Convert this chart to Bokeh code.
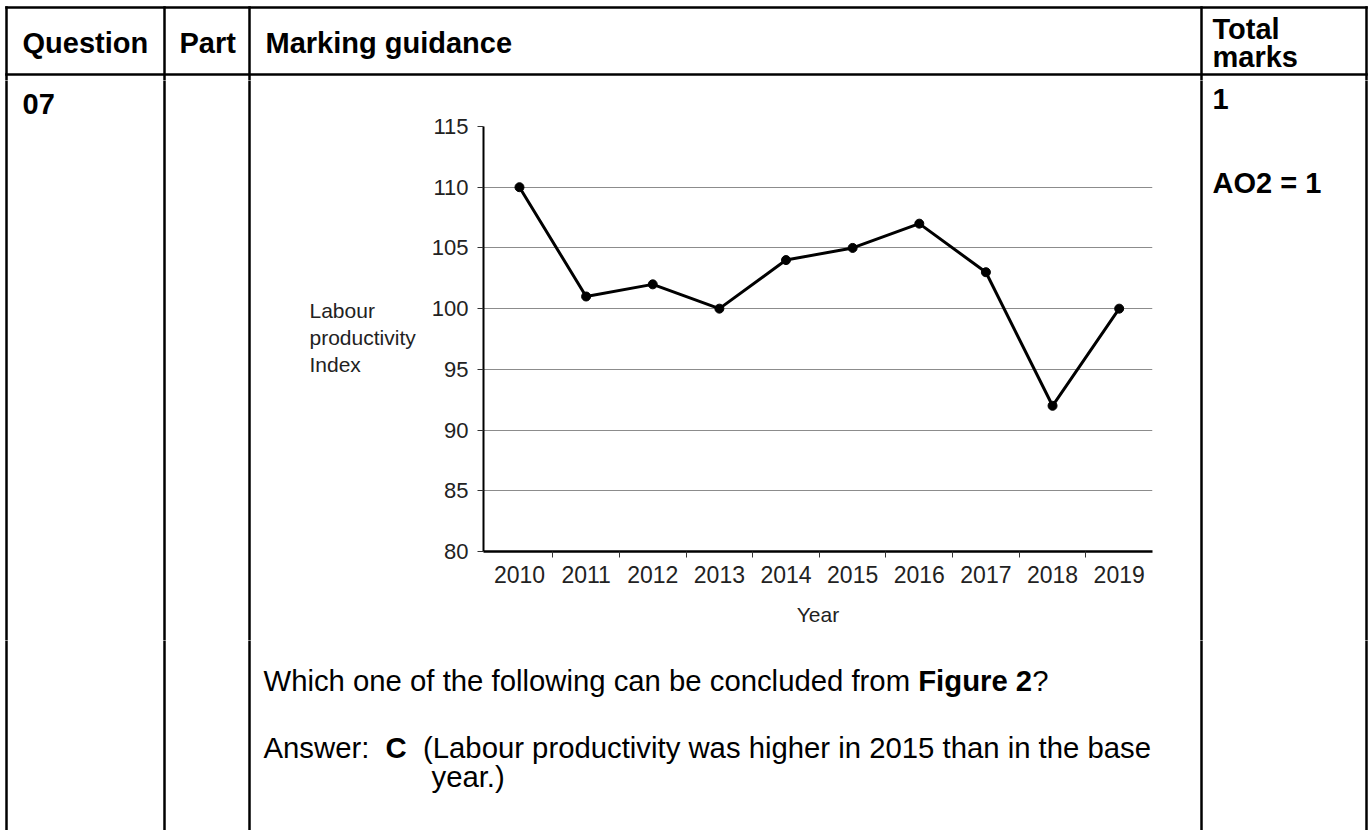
from bokeh.plotting import figure
from bokeh.models import Range1d, FixedTicker
from bokeh.layouts import column, row
from bokeh.core.properties import value
from bokeh.embed import file_html
from bokeh.resources import INLINE

# ---------------- data ----------------
years = [2010, 2011, 2012, 2013, 2014, 2015, 2016, 2017, 2018, 2019]
index_values = [110, 101, 102, 100, 104, 105, 107, 103, 92, 100]
y_ticks = [80, 85, 90, 95, 100, 105, 110, 115]
y_label_lines = ["Labour", "productivity", "Index"]
x_label = "Year"
header_texts = ["Question", "Part", "Marking guidance"]
marks_header = ["Total", "marks"]
question_no = "07"
total_marks = "1"
ao_text = "AO2 = 1"
question_text = ["Which one of the following can be concluded from ", "Figure 2", "?"]
answer_text = ["Answer:", "C", "(Labour productivity was higher in 2015 than in the base", "year.)"]

FONT = "Liberation Sans"
PW, PH = 1371, 830

# page regions (pixels)
TOP_H = 80           # header strip height
CH_X0, CH_X1 = 420, 1170
CH_Y1 = 640
COL_LINES = [6, 164, 249, 1201, 1366]
LW = 2.5
BODY = "29.3px"


def no_align(f):
    try:
        f.frame_align = False
    except Exception:
        pass


def page_fig(x0, x1, y0, y1):
    f = figure(width=x1 - x0, height=y1 - y0,
               x_range=Range1d(x0, x1), y_range=Range1d(y1, y0),
               output_backend="svg", toolbar_location=None,
               x_axis_type=None, y_axis_type=None, min_border=0)
    f.outline_line_color = None
    f.background_fill_color = "white"
    f.border_fill_color = "white"
    f.grid.visible = False
    no_align(f)
    xs = [x for x in COL_LINES if x0 <= x <= x1]
    if xs:
        ystart = 5.75 if y0 <= 5.75 else y0 - 4
        f.segment(x0=xs, y0=[ystart] * len(xs), x1=xs, y1=[y1 + 4] * len(xs),
                  line_color="black", line_width=LW)
    return f


def txt(f, x, y, s, size=BODY, bold=False, color="black"):
    f.text(x=[x], y=[y], text=[s], text_font=value(FONT),
           text_font_size=value(size),
           text_font_style=value("bold" if bold else "normal"),
           text_color=color, text_align="left", text_baseline=value("middle"))


# ---------------- header strip ----------------
top = page_fig(0, PW, 0, TOP_H)
top.segment(x0=[4.75, 4.75], y0=[7, 74], x1=[1367.25, 1367.25], y1=[7, 74],
            line_color="black", line_width=LW)
txt(top, 22, 42, header_texts[0], size="29px", bold=True)
txt(top, 179, 42, header_texts[1], size="29px", bold=True)
txt(top, 265, 42, header_texts[2], size="29px", bold=True)
txt(top, 1212, 28, marks_header[0], size="29px", bold=True)
txt(top, 1212, 56, marks_header[1], size="29px", bold=True)

# ---------------- left of chart ----------------
left = page_fig(0, CH_X0, TOP_H, CH_Y1)
txt(left, 22, 103, question_no, size="29px", bold=True)
for i, s in enumerate(y_label_lines):
    txt(left, 309, 310 + 27 * i, s, size="21px", color="#222222")

# ---------------- right of chart ----------------
right = page_fig(CH_X1, PW, TOP_H, CH_Y1)
txt(right, 1212, 98, total_marks, size="29px", bold=True)
txt(right, 1212, 182, ao_text, size="29px", bold=True)

# ---------------- chart ----------------
FL, FR = 483 - CH_X0, CH_X1 - 1152
FT, FB = 126 - TOP_H, CH_Y1 - 551
p = figure(width=CH_X1 - CH_X0, height=CH_Y1 - TOP_H,
           x_range=Range1d(2009.46, 2019.5), y_range=Range1d(80, 115),
           output_backend="svg", toolbar_location=None,
           min_border_left=FL, min_border_right=FR,
           min_border_top=FT, min_border_bottom=FB)
no_align(p)
p.background_fill_color = "white"
p.border_fill_color = "white"
p.outline_line_color = None

p.xaxis.ticker = FixedTicker(ticks=years, minor_ticks=[y + 0.5 for y in years[:-1]])
p.xaxis.axis_line_width = 2.5
p.xaxis.axis_line_color = "black"
p.xaxis.major_tick_out = 0
p.xaxis.major_tick_in = 0
p.xaxis.minor_tick_out = 6
p.xaxis.minor_tick_in = 0
p.xaxis.minor_tick_line_color = "#333333"
p.xaxis.major_label_text_font = FONT
p.xaxis.major_label_text_font_size = "23px"
p.xaxis.major_label_text_color = "#222222"
p.xaxis.major_label_standoff = 8
p.xaxis.axis_label = x_label
p.xaxis.axis_label_text_font = FONT
p.xaxis.axis_label_text_font_size = "21px"
p.xaxis.axis_label_text_font_style = "normal"
p.xaxis.axis_label_text_color = "#222222"
p.xaxis.axis_label_standoff = 17

p.yaxis.ticker = FixedTicker(ticks=y_ticks)
p.yaxis.axis_line_width = 2
p.yaxis.axis_line_color = "black"
p.yaxis.major_tick_out = 6
p.yaxis.major_tick_in = 0
p.yaxis.major_tick_line_color = "#333333"
p.yaxis.minor_tick_out = 0
p.yaxis.minor_tick_in = 0
p.yaxis.major_label_text_font = FONT
p.yaxis.major_label_text_font_size = "22px"
p.yaxis.major_label_text_color = "#222222"
p.yaxis.major_label_standoff = 9

p.xgrid.visible = False
p.ygrid.ticker = FixedTicker(ticks=y_ticks)
p.ygrid.grid_line_color = "#8c8c8c"
p.ygrid.grid_line_width = 1

p.line(years, index_values, line_color="black", line_width=3)
p.scatter(years, index_values, size=9, color="black")

# ---------------- text below chart ----------------
bottom = page_fig(0, PW, CH_Y1, PH)
txt(bottom, 263, 680, question_text[0])
txt(bottom, 917.7, 680, question_text[1], bold=True)
txt(bottom, 1031.7, 680, question_text[2])
txt(bottom, 263, 747, answer_text[0])
txt(bottom, 385, 747, answer_text[1], bold=True)
txt(bottom, 422.5, 747, answer_text[2])
txt(bottom, 431, 776, answer_text[3])

layout = column(top, row(left, p, right, spacing=0), bottom, spacing=0)
open("out.html", "w").write(file_html(layout, INLINE))
